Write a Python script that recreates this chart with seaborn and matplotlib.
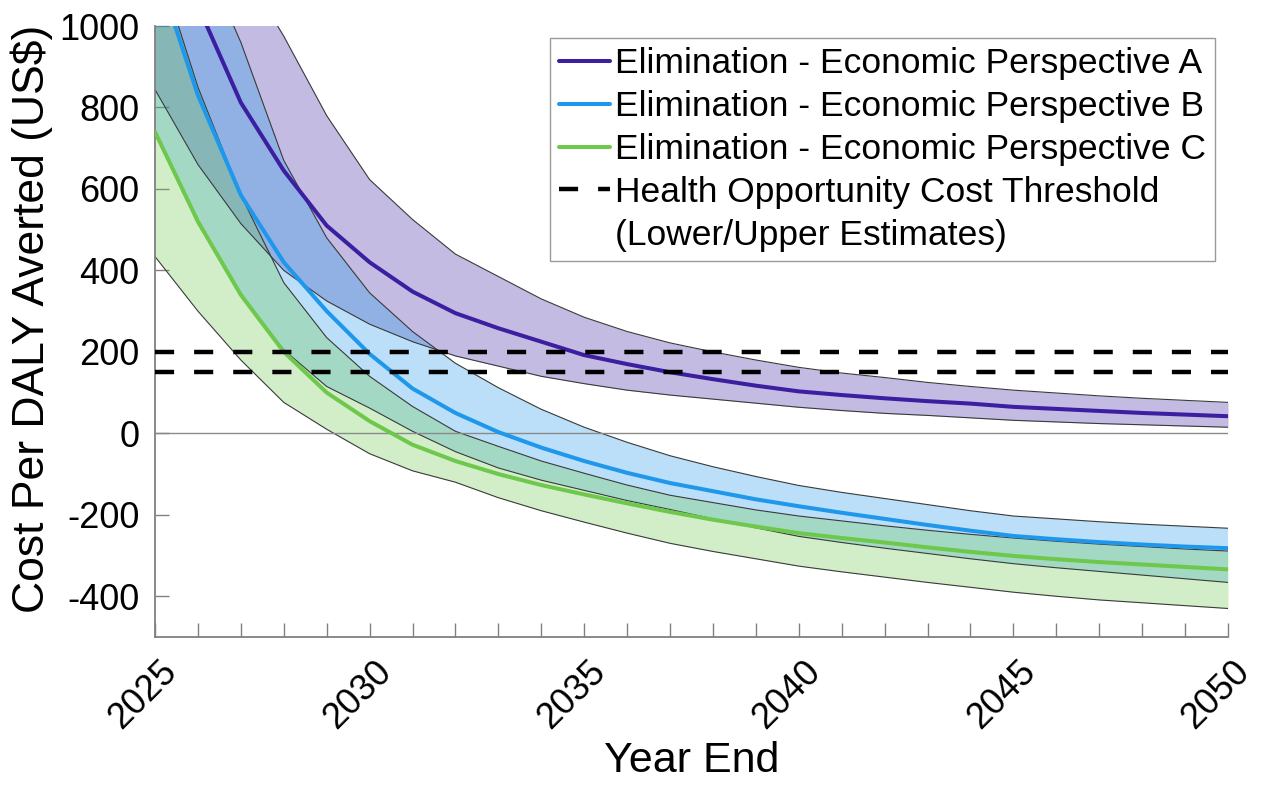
import numpy as np
import pandas as pd
import matplotlib
matplotlib.use("Agg")
import matplotlib.pyplot as plt
import matplotlib.transforms as mtransforms
from matplotlib.lines import Line2D
import seaborn as sns

# ---------------- data ----------------
years = list(range(2025, 2051))

a_mean = [1300, 1050, 812, 645, 510, 420, 348, 295, 258, 225, 192, 170, 150, 133, 117, 103,
          94, 86, 79, 73, 65, 60, 55, 50, 46, 42]
a_upper = [1700, 1380, 1150, 975, 780, 623, 525, 440, 385, 330, 285, 250, 222, 200, 180, 162,
           148, 137, 125, 115, 106, 99, 92, 86, 81, 76]
a_lower = [844, 660, 515, 400, 325, 268, 225, 190, 165, 140, 122, 106, 94, 84, 74, 64,
           56, 49, 44, 38, 32, 28, 24, 21, 18, 15]

b_mean = [1150, 830, 585, 420, 300, 195, 110, 50, 3, -35, -68, -97, -122, -142, -162, -179,
          -195, -210, -225, -239, -252, -260, -267, -273, -278, -282]
b_upper = [1600, 1200, 960, 670, 480, 345, 250, 172, 112, 59, 15, -22, -55, -82, -106, -128,
           -145, -160, -175, -190, -203, -210, -217, -223, -228, -233]
b_lower = [745, 515, 340, 205, 115, 62, 5, -45, -85, -115, -140, -165, -187, -210, -232, -253,
           -268, -282, -295, -308, -320, -330, -339, -348, -357, -366]

c_mean = [740, 520, 340, 200, 100, 30, -28, -68, -100, -127, -150, -172, -193, -212, -229, -245,
          -257, -268, -280, -291, -301, -309, -316, -322, -328, -334]
c_upper = [1180, 850, 585, 370, 235, 140, 66, 5, -32, -68, -98, -127, -152, -170, -188, -203,
           -215, -227, -238, -248, -257, -265, -272, -278, -284, -289]
c_lower = [434, 300, 180, 76, 10, -50, -92, -120, -158, -190, -218, -245, -270, -290, -308, -326,
           -340, -353, -366, -378, -390, -400, -409, -416, -423, -430]

thresholds = [150, 200]

series_names = ["Elimination - Economic Perspective A",
                "Elimination - Economic Perspective B",
                "Elimination - Economic Perspective C"]
threshold_label = "Health Opportunity Cost Threshold"
threshold_label2 = "(Lower/Upper Estimates)"

xtick_values = [2025, 2030, 2035, 2040, 2045, 2050]
xtick_labels = ["2025", "2030", "2035", "2040", "2045", "2050"]
ytick_values = [-400, -200, 0, 200, 400, 600, 800, 1000]
ytick_labels = ["-400", "-200", "0", "200", "400", "600", "800", "1000"]

colors = ["#3b1fa0", "#1f97ea", "#6dc84c"]

# ---------------- plot ----------------
sns.set_theme(style="white")
plt.rcParams['font.family'] = ['Liberation Sans', 'DejaVu Sans']
plt.rcParams['text.color'] = 'black'
plt.rcParams['axes.labelcolor'] = 'black'

fig = plt.figure(figsize=(12.61, 7.91), dpi=100)
ax = fig.add_axes([155 / 1261, 1 - 637 / 791, (1228 - 155) / 1261, (637 - 26) / 791])

bands = [(a_lower, a_upper), (b_lower, b_upper), (c_lower, c_upper)]
for (lo, hi), col in zip(bands, colors):
    ax.fill_between(years, lo, hi, color=col, alpha=0.3, linewidth=0, zorder=1)
for (lo, hi), col in zip(bands, colors):
    ax.plot(years, lo, color="#3a3a3a", lw=0.8, zorder=2)
    ax.plot(years, hi, color="#3a3a3a", lw=0.8, zorder=2)

ax.axhline(0, color="#8a8a8a", lw=1.0, zorder=2.5)

df = pd.DataFrame({
    "Year": years * 3,
    "Value": a_mean + b_mean + c_mean,
    "Series": [series_names[0]] * len(years) + [series_names[1]] * len(years) + [series_names[2]] * len(years),
})
sns.lineplot(data=df, x="Year", y="Value", hue="Series", palette=colors,
             linewidth=2.9, legend=False, ax=ax, zorder=3)

DASH = (4.3, 4.5)
for t in thresholds:
    ax.plot([years[0], years[-1]], [t, t], color="black", lw=3.2,
            dashes=DASH, zorder=4)

ax.set_xlim(2025, 2050)
ax.set_ylim(-500, 1000)

ax.set_xticks(xtick_values)
ax.set_xticks(years, minor=True)
ax.set_xticklabels(xtick_labels, rotation=45, ha="center")
ax.set_yticks(ytick_values)
ax.set_yticklabels(ytick_labels)

ax.tick_params(axis="both", which="both", direction="in", length=10, width=1.0,
               color="#808080", labelcolor="black", labelsize=26,
               bottom=True, left=True, top=False, right=False)
ax.tick_params(axis="x", which="both", pad=12)
ax.tick_params(axis="y", which="both", pad=11)
offset = mtransforms.ScaledTranslation(-12 / 100, 0, fig.dpi_scale_trans)
for lab in ax.get_xticklabels():
    lab.set_transform(lab.get_transform() + offset)

for side in ["top", "right"]:
    ax.spines[side].set_visible(False)
for side in ["left", "bottom"]:
    ax.spines[side].set_color("#808080")
    ax.spines[side].set_linewidth(1.3)

ax.set_xlabel("Year End", fontsize=31, labelpad=4, color="black")
ax.set_ylabel("Cost Per DALY Averted (US$)", fontsize=32, color="black")
ax.yaxis.set_label_coords(-0.095, 0.52)

handles = [Line2D([0], [0], color=colors[0], lw=2.9),
           Line2D([0], [0], color=colors[1], lw=2.9),
           Line2D([0], [0], color=colors[2], lw=2.9),
           Line2D([0], [0], color="black", lw=3.2, dashes=DASH),
           Line2D([0], [0], color="none", lw=0)]
labels = series_names + [threshold_label, threshold_label2]
leg = ax.legend(handles, labels, loc="upper right", bbox_to_anchor=(0.988, 0.980),
                borderaxespad=0, fontsize=25.5, handlelength=1.45, handletextpad=0.15,
                labelspacing=0.28, borderpad=0.25, frameon=True, fancybox=False)
for txt in leg.get_texts():
    txt.set_color("black")
leg.get_frame().set_edgecolor("#9a9a9a")
leg.get_frame().set_linewidth(1.0)
leg.get_frame().set_facecolor("white")
leg.get_frame().set_alpha(1)
leg.set_zorder(10)

fig.savefig("out.png", dpi=100)
